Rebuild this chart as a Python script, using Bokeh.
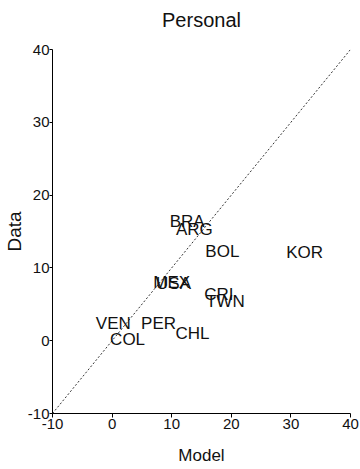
from bokeh.plotting import figure
from bokeh.models import Range1d, ColumnDataSource, FixedTicker, Title
from bokeh.core.properties import value
from bokeh.embed import file_html
from bokeh.resources import INLINE

title = "Personal"
countries = ["KOR", "BOL", "BRA", "ARG", "MEX", "USA", "CRI", "TWN", "VEN", "COL", "PER", "CHL"]
model = [32.3, 18.5, 12.6, 13.8, 10.0, 10.3, 17.9, 19.0, 0.2, 2.6, 7.8, 13.5]
data = [12.1, 12.3, 16.4, 15.3, 8.0, 7.9, 6.3, 5.4, 2.4, 0.2, 2.4, 1.0]
ticks = [-10, 0, 10, 20, 30, 40]
tick_labels = ["-10", "0", "10", "20", "30", "40"]
diag = [-10, 40]

FONT = "Liberation Sans"

p = figure(width=360, height=469, output_backend="svg", toolbar_location=None,
           x_range=Range1d(-10, 40), y_range=Range1d(-10, 40),
           min_border_left=52, min_border_right=10, min_border_top=49, min_border_bottom=56,
           title=title)
p.outline_line_color = None
p.xgrid.visible = False
p.ygrid.visible = False
p.background_fill_color = "white"
p.border_fill_color = "white"

p.title.align = "center"
p.title.text_font = FONT
p.title.text_font_size = "20px"
p.title.text_font_style = "normal"
p.title.text_color = "#111111"
p.title.standoff = 0
# blank spacer title to lift the real title towards the top edge
p.add_layout(Title(text=" ", text_font_size="15px", standoff=0), "above")

for ax in (p.xaxis[0], p.yaxis[0]):
    ax.ticker = FixedTicker(ticks=ticks)
    ax.major_label_overrides = {t: s for t, s in zip(ticks, tick_labels)}
    ax.minor_tick_line_color = None
    ax.major_tick_in = 0
    ax.major_tick_out = 4
    ax.axis_line_color = "black"
    ax.major_tick_line_color = "black"
    ax.major_label_text_font = FONT
    ax.major_label_text_font_size = "15px"
    ax.major_label_text_color = "#111111"
    ax.axis_label_text_font = FONT
    ax.axis_label_text_font_style = "normal"
    ax.axis_label_text_color = "#111111"

p.yaxis[0].major_tick_out = 3
p.xaxis.axis_label = "Model"
p.yaxis.axis_label = "Data"
p.xaxis.axis_label_text_font_size = "17px"
p.yaxis.axis_label_text_font_size = "19px"
p.xaxis.major_label_standoff = 1
p.yaxis.major_label_standoff = 0
p.xaxis.axis_label_standoff = 14
p.yaxis.axis_label_standoff = 0

p.line(diag, diag, line_color="black", line_width=0.8, line_dash="2 2")

src = ColumnDataSource(dict(x=model, y=data, t=countries))
p.text(x="x", y="y", text="t", source=src, text_align="center", text_baseline="middle",
       text_font=value(FONT), text_font_size="17px", text_color="#111111")

open("out.html", "w").write(file_html(p, INLINE))
